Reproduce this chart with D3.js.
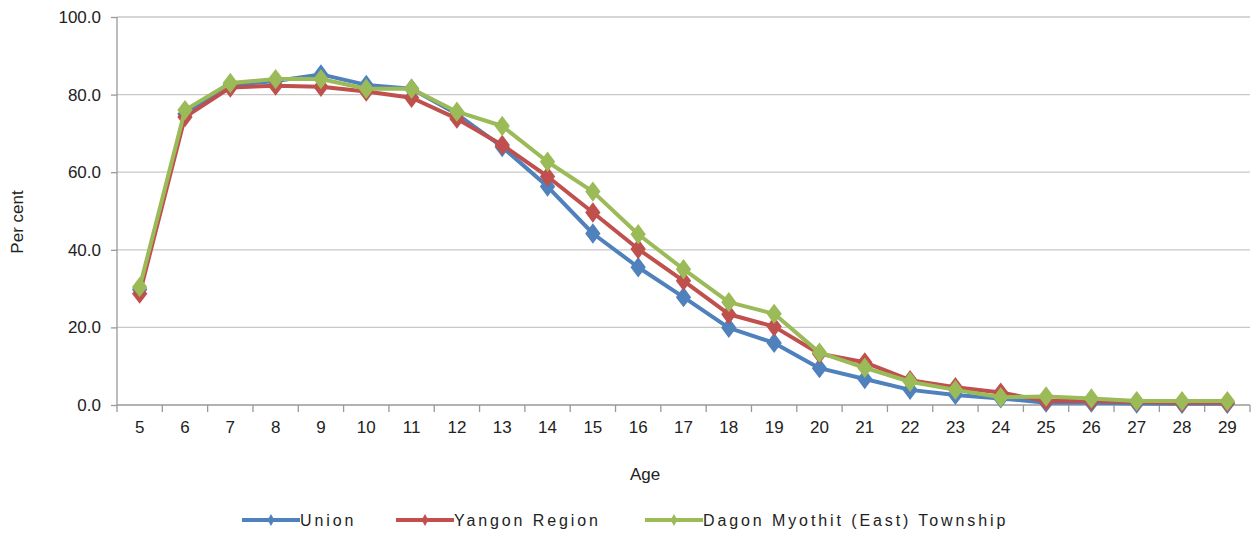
<!DOCTYPE html>
<html>
<head>
<meta charset="utf-8">
<script src="https://cdn.jsdelivr.net/npm/d3@7"></script>
<style>
  body { margin: 0; background: #fff; }
  text { font-family: "Liberation Sans", Arial, sans-serif; fill: #222; }
</style>
</head>
<body>
<div class="chart"></div>
<script>
var ages = [5,6,7,8,9,10,11,12,13,14,15,16,17,18,19,20,21,22,23,24,25,26,27,28,29];
var union = [29.8,75.0,82.5,83.5,85.2,82.5,81.5,75.0,66.5,56.3,44.2,35.5,27.8,19.9,16.0,9.5,6.7,3.9,2.6,1.7,0.6,0.6,0.4,0.3,0.3];
var yangon = [28.7,74.2,81.8,82.3,82.0,80.8,79.2,73.8,67.0,58.9,49.6,40.2,32.0,23.4,20.2,13.2,11.0,6.4,4.6,3.2,1.0,1.0,0.8,0.6,0.6];
var dagon = [30.4,76.0,83.0,84.0,84.0,81.5,81.5,75.6,71.9,62.7,55.0,44.0,35.0,26.5,23.5,13.5,9.6,6.0,3.9,2.0,2.2,1.7,1.0,1.0,1.0];
var seriesNames = ["Union", "Yangon Region", "Dagon Myothit (East) Township"];
var yTicks = [0, 20, 40, 60, 80, 100];

var colors = ["#4F81BD", "#C0504D", "#9BBB59"];
var series = [union, yangon, dagon].map((v, i) => ({name: seriesNames[i], values: v, color: colors[i]}));

var margin = {top: 17, bottom: 130, left: 117, right: 1};
var fullWidth = 1251, fullHeight = 535;
var width = fullWidth - margin.left - margin.right;
var height = fullHeight - margin.top - margin.bottom;

var svg = d3.select(`.chart`)
    .append(`svg`)
    .attr(`width`, fullWidth)
    .attr(`height`, fullHeight)
    .append(`g`)
    .attr(`transform`, `translate(${margin.left},${margin.top})`);

var xScale = d3.scaleBand()
    .domain(ages)
    .range([0, width]);

var yScale = d3.scaleLinear()
    .domain([0, 100])
    .range([height, 0]);

// gridlines
svg.selectAll(`.grid`)
    .data(yTicks.slice(1))
    .enter()
    .append(`line`)
    .attr(`x1`, 0)
    .attr(`x2`, width)
    .attr(`y1`, d => yScale(d))
    .attr(`y2`, d => yScale(d))
    .style(`stroke`, `#c8c8c8`)
    .style(`stroke-width`, 1.3);

// y axis
var yAxis = d3.axisLeft(yScale)
    .tickValues(yTicks)
    .tickSize(6)
    .tickPadding(10)
    .tickFormat(d3.format(`.1f`));
var gy = svg.append(`g`).call(yAxis);
gy.select(`.domain`).attr(`d`, `M0,0V${height}`).style(`stroke`, `#999`).style(`stroke-width`, 1.3);
gy.selectAll(`.tick line`).style(`stroke`, `#999`).style(`stroke-width`, 1.3);
gy.selectAll(`text`).style(`font-size`, `17px`).style(`fill`, `#222`);

// x axis: ticks sit between categories
var gx = svg.append(`g`).attr(`transform`, `translate(0, ${height})`);
gx.append(`line`).attr(`x1`, 0).attr(`x2`, width).style(`stroke`, `#999`).style(`stroke-width`, 1.3);
gx.selectAll(`.xt`)
    .data(ages)
    .enter()
    .append(`line`)
    .attr(`x1`, d => xScale(d))
    .attr(`x2`, d => xScale(d))
    .attr(`y1`, 0)
    .attr(`y2`, 7)
    .style(`stroke`, `#999`)
    .style(`stroke-width`, 1.3);
gx.append(`line`).attr(`x1`, width).attr(`x2`, width).attr(`y1`, 0).attr(`y2`, 7)
    .style(`stroke`, `#999`).style(`stroke-width`, 1.3);
gx.selectAll(`.xl`)
    .data(ages)
    .enter()
    .append(`text`)
    .attr(`x`, d => xScale(d) + xScale.bandwidth() / 2)
    .attr(`y`, 28)
    .style(`text-anchor`, `middle`)
    .style(`font-size`, `17px`)
    .text(d => d);

// axis titles
svg.append(`text`)
    .attr(`x`, 645 - margin.left)
    .attr(`y`, 480 - margin.top)
    .style(`text-anchor`, `middle`)
    .style(`font-size`, `17px`)
    .text(`Age`);
svg.append(`text`)
    .attr(`transform`, `translate(${23 - margin.left}, ${222 - margin.top}) rotate(-90)`)
    .style(`text-anchor`, `middle`)
    .style(`font-size`, `17px`)
    .text(`Per cent`);

var line = d3.line()
    .x((d, i) => xScale(ages[i]) + xScale.bandwidth() / 2)
    .y(d => yScale(d));

var diamond = d3.symbol().type(d3.symbolDiamond).size(120);

series.forEach(s => {
    svg.append(`path`)
        .datum(s.values)
        .attr(`d`, line)
        .style(`fill`, `none`)
        .style(`stroke`, s.color)
        .style(`stroke-width`, 4)
        .style(`stroke-linejoin`, `round`);
    svg.selectAll(null)
        .data(s.values)
        .enter()
        .append(`path`)
        .attr(`d`, diamond)
        .attr(`transform`, (d, i) => `translate(${xScale(ages[i]) + xScale.bandwidth() / 2}, ${yScale(d)}) scale(1.3, 1)`)
        .style(`fill`, s.color);
});

// legend
var legendX = [242, 396, 645];
var legend = d3.select(`svg`).append(`g`);
series.forEach((s, i) => {
    var g = legend.append(`g`).attr(`transform`, `translate(${legendX[i]}, 520)`);
    g.append(`line`).attr(`x1`, 0).attr(`x2`, 58).style(`stroke`, s.color).style(`stroke-width`, 4);
    g.append(`path`).attr(`d`, d3.symbol().type(d3.symbolDiamond).size(40)).attr(`transform`, `translate(29,0)`).style(`fill`, s.color);
    g.append(`text`)
        .attr(`x`, 58)
        .attr(`y`, 6)
        .style(`font-size`, `16px`)
        .style(`letter-spacing`, `2.9px`)
        .text(s.name);
});
</script>
</body>
</html>
